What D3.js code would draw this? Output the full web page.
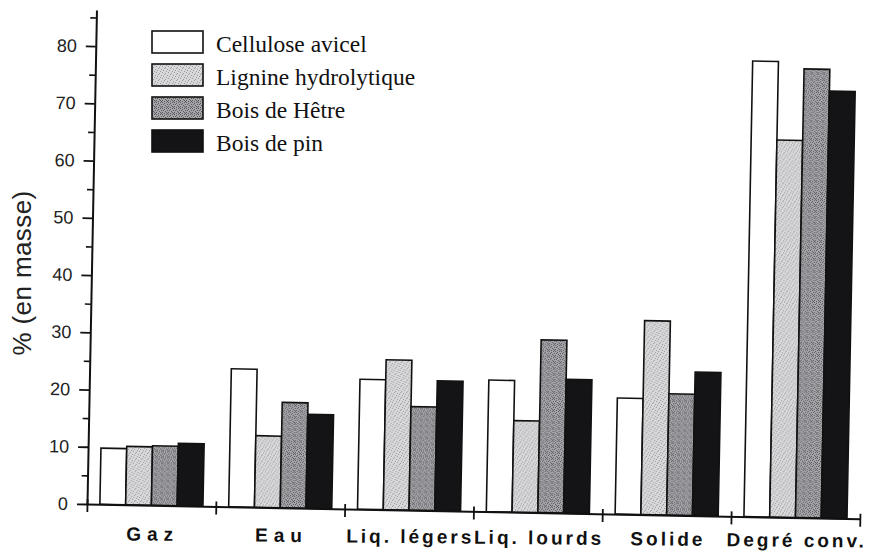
<!DOCTYPE html>
<html>
<head>
<meta charset="utf-8">
<script src="https://cdn.jsdelivr.net/npm/d3@7"></script>
<style>
  html, body { margin: 0; padding: 0; background: #fff; }
  svg { display: block; }
</style>
</head>
<body>
<script>
// Product distribution (% by mass) for four feedstocks
const categories = ["Gaz", "Eau", "Liq. légers", "Liq. lourds", "Solide", "Degré conv."];
const series = ["Cellulose avicel", "Lignine hydrolytique", "Bois de Hêtre", "Bois de pin"];
const cellulose = [9.8, 24.1, 22.7, 23.0, 20.3, 79.6];
const lignine   = [10.2, 12.5, 26.2, 16.0, 33.9, 65.9];
const hetre     = [10.4, 18.4, 18.1, 30.2, 21.2, 78.4];
const pin       = [10.9, 16.4, 22.7, 23.4, 25.1, 74.6];
const yMajorTicks = [0, 10, 20, 30, 40, 50, 60, 70, 80];
const yMinorTicks = [5, 15, 25, 35, 45, 55, 65, 75, 85];

const values = [cellulose, lignine, hetre, pin];

const W = 872, H = 558;
const x0 = 87, x1 = 860, yBase = 504, yTop = 10;

const svg = d3.select("body").append("svg")
  .attr("width", W).attr("height", H);

// halftone-like fills built from scattered dots
const defs = svg.append("defs");
function stipple(id, base, dot, pts) {
  const p = defs.append("pattern").attr("id", id)
    .attr("patternUnits", "userSpaceOnUse").attr("width", 6).attr("height", 6);
  p.append("rect").attr("width", 6).attr("height", 6).attr("fill", base);
  pts.forEach(([px, py]) => p.append("rect").attr("x", px).attr("y", py)
    .attr("width", 1).attr("height", 1).attr("fill", dot));
}
stipple("fillLig", "#d8d8da", "#9a9a9e",
  [[0, 0], [3, 1], [5, 3], [1, 4], [4, 5], [2, 2]]);
stipple("fillHet", "#a6a6aa", "#5a5a5e",
  [[0, 0], [2, 1], [4, 0], [1, 2], [5, 2], [3, 3], [0, 4], [2, 5], [4, 4], [5, 5]]);
const fills = ["#ffffff", "url(#fillLig)", "url(#fillHet)", "#141416"];

const x = d3.scaleBand().domain(categories).range([x0, x1])
  .paddingInner(0.2).paddingOuter(0.1);
const xs = d3.scaleBand().domain(series).range([0, x.bandwidth()]).padding(0);
const y = d3.scaleLinear().domain([0, 86.3]).range([yBase, yTop]);
const edge = d3.scaleLinear().domain([0, categories.length]).range([x0, x1]);

// the plotted frame sits slightly askew on the page
const plot = svg.append("g").attr("transform", `rotate(1.1, ${x0}, ${yBase})`);

// bars
categories.forEach((c, ci) => {
  series.forEach((s, si) => {
    const v = values[si][ci];
    plot.append("rect")
      .attr("x", x(c) + xs(s))
      .attr("y", y(v))
      .attr("width", xs.bandwidth())
      .attr("height", y(0) - y(v))
      .attr("fill", fills[si])
      .attr("stroke", "#111")
      .attr("stroke-width", 1.6);
  });
});

// y axis
const yAxis = plot.append("g").attr("transform", `translate(${x0},0)`)
  .call(d3.axisLeft(y).tickValues(yMajorTicks).tickSizeInner(10).tickSizeOuter(0).tickPadding(9));
yAxis.selectAll("text").attr("font-family", "Liberation Sans, Arial, sans-serif")
  .attr("font-size", 18).attr("fill", "#222");
yAxis.select(".domain").attr("stroke", "#111").attr("stroke-width", 2);
yAxis.selectAll(".tick line").attr("stroke", "#111").attr("stroke-width", 1.8);

const yMinor = plot.append("g").attr("transform", `translate(${x0},0)`)
  .call(d3.axisLeft(y).tickValues(yMinorTicks).tickSize(6).tickFormat(""));
yMinor.select(".domain").remove();
yMinor.selectAll(".tick line").attr("stroke", "#111").attr("stroke-width", 1.6);

// x axis with ticks at the category boundaries
const xAxis = plot.append("g").attr("transform", `translate(0,${yBase})`)
  .call(d3.axisBottom(edge).tickValues(d3.range(categories.length + 1))
    .tickFormat("").tickSizeInner(8).tickSizeOuter(0));
xAxis.select(".domain").attr("stroke", "#111").attr("stroke-width", 2);
xAxis.selectAll(".tick line").attr("y1", -5).attr("stroke", "#111").attr("stroke-width", 1.8);

// category labels
const labelSpacing = 3;
const labels = svg.append("g").attr("transform", `rotate(0.55, ${x0}, ${yBase})`);
labels.selectAll("text").data(categories).join("text")
  .attr("x", d => x(d) + x.bandwidth() / 2 + labelSpacing / 2)
  .attr("y", 540)
  .attr("text-anchor", "middle")
  .attr("font-family", "Liberation Sans, Arial, sans-serif")
  .attr("font-weight", "bold")
  .attr("font-size", 19)
  .attr("letter-spacing", d => d.length <= 3 ? 6 : labelSpacing)
  .attr("fill", "#111")
  .text(d => d);

// y title
svg.append("text")
  .attr("transform", "translate(31,273) rotate(-90)")
  .attr("text-anchor", "middle")
  .attr("font-family", "Liberation Sans, Arial, sans-serif")
  .attr("font-size", 26)
  .attr("letter-spacing", 0.4)
  .attr("fill", "#222")
  .text("% (en masse)");

// legend
const legend = svg.append("g");
series.forEach((s, i) => {
  const top = 31 + i * 33;
  legend.append("rect")
    .attr("x", 152).attr("y", top).attr("width", 51).attr("height", 22)
    .attr("fill", fills[i]).attr("stroke", "#111").attr("stroke-width", 1.6);
  legend.append("text")
    .attr("x", 216).attr("y", top + 21)
    .attr("font-family", "Liberation Serif, Times New Roman, serif")
    .attr("font-size", 23.5)
    .attr("fill", "#111")
    .text(s);
});
</script>
</body>
</html>
